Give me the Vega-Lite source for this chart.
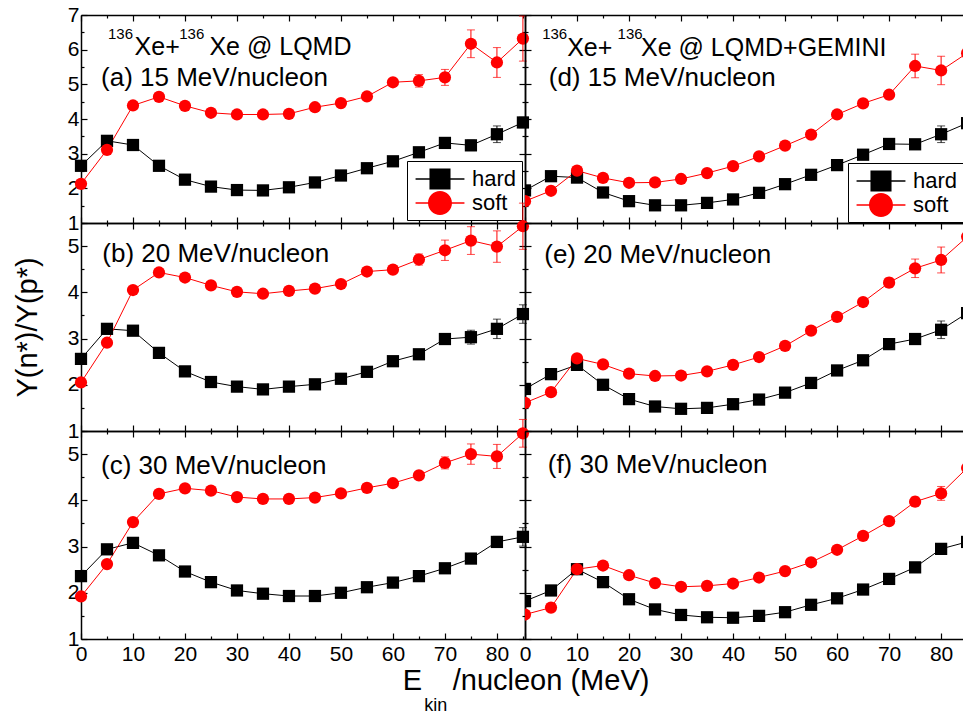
{
"$schema": "https://vega.github.io/schema/vega-lite/v6.json",
"padding": {"left": 13, "top": 4, "right": 0, "bottom": 0},
"config": {
 "view": {"stroke": null},
 "font": "Liberation Sans",
 "axis": {"domainColor": "#000", "domainWidth": 1.5, "tickColor": "#000", "tickWidth": 1.2, "grid": false, "labelFont": "Liberation Sans", "labelFontSize": 21, "labelColor": "#000", "labelOverlap": false, "labelFlush": false, "labelBound": false, "labelPadding": 8, "titleFont": "Liberation Sans", "titleFontSize": 29, "titleFontWeight": "normal", "titleColor": "#000"}
},
"datasets": {
 "pts": [
{"p":"a","m":"hard","E":0,"Y":2.65,"e":0},{"p":"a","m":"hard","E":5,"Y":3.37,"e":0},{"p":"a","m":"hard","E":10,"Y":3.25,"e":0},{"p":"a","m":"hard","E":15,"Y":2.65,"e":0},{"p":"a","m":"hard","E":20,"Y":2.25,"e":0},{"p":"a","m":"hard","E":25,"Y":2.05,"e":0},{"p":"a","m":"hard","E":30,"Y":1.95,"e":0},{"p":"a","m":"hard","E":35,"Y":1.94,"e":0},{"p":"a","m":"hard","E":40,"Y":2.03,"e":0},{"p":"a","m":"hard","E":45,"Y":2.17,"e":0},{"p":"a","m":"hard","E":50,"Y":2.37,"e":0},{"p":"a","m":"hard","E":55,"Y":2.58,"e":0},{"p":"a","m":"hard","E":60,"Y":2.78,"e":0},{"p":"a","m":"hard","E":65,"Y":3.04,"e":0},{"p":"a","m":"hard","E":70,"Y":3.31,"e":0.06},{"p":"a","m":"hard","E":75,"Y":3.24,"e":0.15},{"p":"a","m":"hard","E":80,"Y":3.56,"e":0.24},{"p":"a","m":"hard","E":85,"Y":3.9,"e":0.15},
{"p":"a","m":"soft","E":0,"Y":2.13,"e":0},{"p":"a","m":"soft","E":5,"Y":3.11,"e":0},{"p":"a","m":"soft","E":10,"Y":4.39,"e":0},{"p":"a","m":"soft","E":15,"Y":4.64,"e":0},{"p":"a","m":"soft","E":20,"Y":4.38,"e":0},{"p":"a","m":"soft","E":25,"Y":4.18,"e":0},{"p":"a","m":"soft","E":30,"Y":4.13,"e":0},{"p":"a","m":"soft","E":35,"Y":4.13,"e":0},{"p":"a","m":"soft","E":40,"Y":4.15,"e":0},{"p":"a","m":"soft","E":45,"Y":4.34,"e":0},{"p":"a","m":"soft","E":50,"Y":4.46,"e":0},{"p":"a","m":"soft","E":55,"Y":4.65,"e":0},{"p":"a","m":"soft","E":60,"Y":5.06,"e":0.06},{"p":"a","m":"soft","E":65,"Y":5.1,"e":0.18},{"p":"a","m":"soft","E":70,"Y":5.2,"e":0.23},{"p":"a","m":"soft","E":75,"Y":6.17,"e":0.4},{"p":"a","m":"soft","E":80,"Y":5.63,"e":0.43},{"p":"a","m":"soft","E":85,"Y":6.32,"e":0.65},
{"p":"b","m":"hard","E":0,"Y":2.56,"e":0},{"p":"b","m":"hard","E":5,"Y":3.21,"e":0},{"p":"b","m":"hard","E":10,"Y":3.17,"e":0},{"p":"b","m":"hard","E":15,"Y":2.69,"e":0},{"p":"b","m":"hard","E":20,"Y":2.29,"e":0},{"p":"b","m":"hard","E":25,"Y":2.06,"e":0},{"p":"b","m":"hard","E":30,"Y":1.96,"e":0},{"p":"b","m":"hard","E":35,"Y":1.9,"e":0},{"p":"b","m":"hard","E":40,"Y":1.96,"e":0},{"p":"b","m":"hard","E":45,"Y":2.01,"e":0},{"p":"b","m":"hard","E":50,"Y":2.13,"e":0},{"p":"b","m":"hard","E":55,"Y":2.28,"e":0},{"p":"b","m":"hard","E":60,"Y":2.51,"e":0},{"p":"b","m":"hard","E":65,"Y":2.66,"e":0},{"p":"b","m":"hard","E":70,"Y":2.99,"e":0.06},{"p":"b","m":"hard","E":75,"Y":3.03,"e":0.15},{"p":"b","m":"hard","E":80,"Y":3.21,"e":0.21},{"p":"b","m":"hard","E":85,"Y":3.53,"e":0.2},
{"p":"b","m":"soft","E":0,"Y":2.05,"e":0},{"p":"b","m":"soft","E":5,"Y":2.91,"e":0},{"p":"b","m":"soft","E":10,"Y":4.05,"e":0},{"p":"b","m":"soft","E":15,"Y":4.43,"e":0},{"p":"b","m":"soft","E":20,"Y":4.32,"e":0},{"p":"b","m":"soft","E":25,"Y":4.15,"e":0},{"p":"b","m":"soft","E":30,"Y":4.01,"e":0},{"p":"b","m":"soft","E":35,"Y":3.97,"e":0},{"p":"b","m":"soft","E":40,"Y":4.03,"e":0},{"p":"b","m":"soft","E":45,"Y":4.08,"e":0},{"p":"b","m":"soft","E":50,"Y":4.18,"e":0},{"p":"b","m":"soft","E":55,"Y":4.45,"e":0},{"p":"b","m":"soft","E":60,"Y":4.49,"e":0},{"p":"b","m":"soft","E":65,"Y":4.71,"e":0.12},{"p":"b","m":"soft","E":70,"Y":4.91,"e":0.22},{"p":"b","m":"soft","E":75,"Y":5.12,"e":0.3},{"p":"b","m":"soft","E":80,"Y":4.99,"e":0.34},{"p":"b","m":"soft","E":85,"Y":5.43,"e":0.5},
{"p":"c","m":"hard","E":0,"Y":2.36,"e":0},{"p":"c","m":"hard","E":5,"Y":2.94,"e":0},{"p":"c","m":"hard","E":10,"Y":3.08,"e":0},{"p":"c","m":"hard","E":15,"Y":2.81,"e":0},{"p":"c","m":"hard","E":20,"Y":2.46,"e":0},{"p":"c","m":"hard","E":25,"Y":2.23,"e":0},{"p":"c","m":"hard","E":30,"Y":2.05,"e":0},{"p":"c","m":"hard","E":35,"Y":1.98,"e":0},{"p":"c","m":"hard","E":40,"Y":1.93,"e":0},{"p":"c","m":"hard","E":45,"Y":1.93,"e":0},{"p":"c","m":"hard","E":50,"Y":2.0,"e":0},{"p":"c","m":"hard","E":55,"Y":2.12,"e":0},{"p":"c","m":"hard","E":60,"Y":2.22,"e":0},{"p":"c","m":"hard","E":65,"Y":2.36,"e":0},{"p":"c","m":"hard","E":70,"Y":2.53,"e":0},{"p":"c","m":"hard","E":75,"Y":2.74,"e":0},{"p":"c","m":"hard","E":80,"Y":3.1,"e":0.12},{"p":"c","m":"hard","E":85,"Y":3.21,"e":0.2},
{"p":"c","m":"soft","E":0,"Y":1.92,"e":0},{"p":"c","m":"soft","E":5,"Y":2.62,"e":0},{"p":"c","m":"soft","E":10,"Y":3.53,"e":0},{"p":"c","m":"soft","E":15,"Y":4.14,"e":0},{"p":"c","m":"soft","E":20,"Y":4.26,"e":0},{"p":"c","m":"soft","E":25,"Y":4.21,"e":0},{"p":"c","m":"soft","E":30,"Y":4.07,"e":0},{"p":"c","m":"soft","E":35,"Y":4.03,"e":0},{"p":"c","m":"soft","E":40,"Y":4.03,"e":0},{"p":"c","m":"soft","E":45,"Y":4.06,"e":0},{"p":"c","m":"soft","E":50,"Y":4.15,"e":0},{"p":"c","m":"soft","E":55,"Y":4.27,"e":0},{"p":"c","m":"soft","E":60,"Y":4.37,"e":0},{"p":"c","m":"soft","E":65,"Y":4.54,"e":0.08},{"p":"c","m":"soft","E":70,"Y":4.81,"e":0.13},{"p":"c","m":"soft","E":75,"Y":5.0,"e":0.22},{"p":"c","m":"soft","E":80,"Y":4.95,"e":0.26},{"p":"c","m":"soft","E":85,"Y":5.45,"e":0.3},
{"p":"d","m":"hard","E":0,"Y":1.94,"e":0},{"p":"d","m":"hard","E":5,"Y":2.35,"e":0},{"p":"d","m":"hard","E":10,"Y":2.31,"e":0},{"p":"d","m":"hard","E":15,"Y":1.88,"e":0},{"p":"d","m":"hard","E":20,"Y":1.63,"e":0},{"p":"d","m":"hard","E":25,"Y":1.51,"e":0},{"p":"d","m":"hard","E":30,"Y":1.51,"e":0},{"p":"d","m":"hard","E":35,"Y":1.58,"e":0},{"p":"d","m":"hard","E":40,"Y":1.68,"e":0},{"p":"d","m":"hard","E":45,"Y":1.87,"e":0},{"p":"d","m":"hard","E":50,"Y":2.12,"e":0},{"p":"d","m":"hard","E":55,"Y":2.39,"e":0},{"p":"d","m":"hard","E":60,"Y":2.67,"e":0},{"p":"d","m":"hard","E":65,"Y":2.97,"e":0},{"p":"d","m":"hard","E":70,"Y":3.28,"e":0},{"p":"d","m":"hard","E":75,"Y":3.27,"e":0.08},{"p":"d","m":"hard","E":80,"Y":3.56,"e":0.24},{"p":"d","m":"hard","E":85,"Y":3.88,"e":0},
{"p":"d","m":"soft","E":0,"Y":1.63,"e":0},{"p":"d","m":"soft","E":5,"Y":1.93,"e":0},{"p":"d","m":"soft","E":10,"Y":2.51,"e":0},{"p":"d","m":"soft","E":15,"Y":2.3,"e":0},{"p":"d","m":"soft","E":20,"Y":2.16,"e":0},{"p":"d","m":"soft","E":25,"Y":2.17,"e":0},{"p":"d","m":"soft","E":30,"Y":2.27,"e":0},{"p":"d","m":"soft","E":35,"Y":2.44,"e":0},{"p":"d","m":"soft","E":40,"Y":2.64,"e":0},{"p":"d","m":"soft","E":45,"Y":2.92,"e":0},{"p":"d","m":"soft","E":50,"Y":3.23,"e":0},{"p":"d","m":"soft","E":55,"Y":3.55,"e":0},{"p":"d","m":"soft","E":60,"Y":4.13,"e":0},{"p":"d","m":"soft","E":65,"Y":4.45,"e":0},{"p":"d","m":"soft","E":70,"Y":4.7,"e":0.12},{"p":"d","m":"soft","E":75,"Y":5.53,"e":0.34},{"p":"d","m":"soft","E":80,"Y":5.4,"e":0.41},{"p":"d","m":"soft","E":85,"Y":5.9,"e":0},
{"p":"e","m":"hard","E":0,"Y":1.91,"e":0},{"p":"e","m":"hard","E":5,"Y":2.23,"e":0},{"p":"e","m":"hard","E":10,"Y":2.43,"e":0},{"p":"e","m":"hard","E":15,"Y":2.0,"e":0},{"p":"e","m":"hard","E":20,"Y":1.69,"e":0},{"p":"e","m":"hard","E":25,"Y":1.53,"e":0},{"p":"e","m":"hard","E":30,"Y":1.48,"e":0},{"p":"e","m":"hard","E":35,"Y":1.5,"e":0},{"p":"e","m":"hard","E":40,"Y":1.58,"e":0},{"p":"e","m":"hard","E":45,"Y":1.68,"e":0},{"p":"e","m":"hard","E":50,"Y":1.83,"e":0},{"p":"e","m":"hard","E":55,"Y":2.04,"e":0},{"p":"e","m":"hard","E":60,"Y":2.31,"e":0},{"p":"e","m":"hard","E":65,"Y":2.53,"e":0},{"p":"e","m":"hard","E":70,"Y":2.88,"e":0},{"p":"e","m":"hard","E":75,"Y":2.99,"e":0.1},{"p":"e","m":"hard","E":80,"Y":3.19,"e":0.19},{"p":"e","m":"hard","E":85,"Y":3.55,"e":0},
{"p":"e","m":"soft","E":0,"Y":1.61,"e":0},{"p":"e","m":"soft","E":5,"Y":1.84,"e":0},{"p":"e","m":"soft","E":10,"Y":2.57,"e":0},{"p":"e","m":"soft","E":15,"Y":2.44,"e":0},{"p":"e","m":"soft","E":20,"Y":2.24,"e":0},{"p":"e","m":"soft","E":25,"Y":2.19,"e":0},{"p":"e","m":"soft","E":30,"Y":2.2,"e":0},{"p":"e","m":"soft","E":35,"Y":2.29,"e":0},{"p":"e","m":"soft","E":40,"Y":2.43,"e":0},{"p":"e","m":"soft","E":45,"Y":2.6,"e":0},{"p":"e","m":"soft","E":50,"Y":2.84,"e":0},{"p":"e","m":"soft","E":55,"Y":3.17,"e":0},{"p":"e","m":"soft","E":60,"Y":3.47,"e":0},{"p":"e","m":"soft","E":65,"Y":3.79,"e":0},{"p":"e","m":"soft","E":70,"Y":4.21,"e":0.1},{"p":"e","m":"soft","E":75,"Y":4.52,"e":0.2},{"p":"e","m":"soft","E":80,"Y":4.7,"e":0.28},{"p":"e","m":"soft","E":85,"Y":5.2,"e":0},
{"p":"f","m":"hard","E":0,"Y":1.82,"e":0},{"p":"f","m":"hard","E":5,"Y":2.05,"e":0},{"p":"f","m":"hard","E":10,"Y":2.51,"e":0},{"p":"f","m":"hard","E":15,"Y":2.23,"e":0},{"p":"f","m":"hard","E":20,"Y":1.86,"e":0},{"p":"f","m":"hard","E":25,"Y":1.64,"e":0},{"p":"f","m":"hard","E":30,"Y":1.52,"e":0},{"p":"f","m":"hard","E":35,"Y":1.47,"e":0},{"p":"f","m":"hard","E":40,"Y":1.46,"e":0},{"p":"f","m":"hard","E":45,"Y":1.5,"e":0},{"p":"f","m":"hard","E":50,"Y":1.58,"e":0},{"p":"f","m":"hard","E":55,"Y":1.74,"e":0},{"p":"f","m":"hard","E":60,"Y":1.88,"e":0},{"p":"f","m":"hard","E":65,"Y":2.07,"e":0},{"p":"f","m":"hard","E":70,"Y":2.3,"e":0},{"p":"f","m":"hard","E":75,"Y":2.55,"e":0},{"p":"f","m":"hard","E":80,"Y":2.95,"e":0.1},{"p":"f","m":"hard","E":85,"Y":3.1,"e":0},
{"p":"f","m":"soft","E":0,"Y":1.53,"e":0},{"p":"f","m":"soft","E":5,"Y":1.68,"e":0},{"p":"f","m":"soft","E":10,"Y":2.51,"e":0},{"p":"f","m":"soft","E":15,"Y":2.59,"e":0},{"p":"f","m":"soft","E":20,"Y":2.38,"e":0},{"p":"f","m":"soft","E":25,"Y":2.21,"e":0},{"p":"f","m":"soft","E":30,"Y":2.13,"e":0},{"p":"f","m":"soft","E":35,"Y":2.15,"e":0},{"p":"f","m":"soft","E":40,"Y":2.2,"e":0},{"p":"f","m":"soft","E":45,"Y":2.33,"e":0},{"p":"f","m":"soft","E":50,"Y":2.47,"e":0},{"p":"f","m":"soft","E":55,"Y":2.66,"e":0},{"p":"f","m":"soft","E":60,"Y":2.93,"e":0},{"p":"f","m":"soft","E":65,"Y":3.23,"e":0},{"p":"f","m":"soft","E":70,"Y":3.55,"e":0},{"p":"f","m":"soft","E":75,"Y":3.97,"e":0.1},{"p":"f","m":"soft","E":80,"Y":4.15,"e":0.15},{"p":"f","m":"soft","E":85,"Y":4.7,"e":0}
 ],
 "ann": [
{"p":"a","k":"big","t":"Xe+","x":10.3,"y":5.86},
{"p":"a","k":"big","t":"Xe @ LQMD","x":24.7,"y":5.86},
{"p":"a","k":"sup","t":"136","x":5.19,"y":6.32},
{"p":"a","k":"sup","t":"136","x":18.9,"y":6.32},
{"p":"a","k":"lab","t":"(a) 15 MeV/nucleon","x":3.85,"y":4.94},
{"p":"d","k":"big","t":"Xe+","x":8.1,"y":5.83},
{"p":"d","k":"big","t":"Xe @ LQMD+GEMINI","x":22.3,"y":5.83},
{"p":"d","k":"sup","t":"136","x":3.3,"y":6.31},
{"p":"d","k":"sup","t":"136","x":17.8,"y":6.31},
{"p":"d","k":"lab","t":"(d) 15 MeV/nucleon","x":4.56,"y":4.94},
{"p":"b","k":"lab","t":"(b) 20 MeV/nucleon","x":4.1,"y":4.65},
{"p":"e","k":"lab","t":"(e) 20 MeV/nucleon","x":3.7,"y":4.63},
{"p":"c","k":"lab","t":"(c) 30 MeV/nucleon","x":3.85,"y":4.58},
{"p":"f","k":"lab","t":"(f) 30 MeV/nucleon","x":4.37,"y":4.6},
{"p":"c","k":"xt","t":"E","x":61.9,"y":-0.11},
{"p":"c","k":"xt","t":"/nucleon (MeV)","x":71.5,"y":-0.11},
{"p":"c","k":"xs","t":"kin","x":66.0,"y":-0.56}
 ]
},
"columns": 2,
"spacing": 0,
"bounds": "flush",
"resolve": {"scale": {"color": "independent", "shape": "independent"}, "legend": {"color": "independent", "shape": "independent"}},
"concat": [
{
 "width": 444, "height": 208,
 "resolve": {"scale": {"shape": "independent", "color": "independent"}, "axis": {"x": "independent", "y": "independent"}},
 "layer": [
  {"data": {"name": "pts"}, "transform": [{"filter": "datum.p === 'a'"}],
   "mark": {"type": "line", "strokeWidth": 1},
   "encoding": {
    "x": {"field": "E", "type": "quantitative", "scale": {"domain": [0, 85.4], "nice": false, "zero": false}, "axis": {"orient": "bottom", "values": [0,5,10,15,20,25,30,35,40,45,50,55,60,65,70,75,80,85], "tickSize": {"condition": {"test": "datum.value % 10 === 0", "value": -6}, "value": -3}, "labels": false, "title": null}},
    "y": {"field": "Y", "type": "quantitative", "scale": {"domain": [1, 7], "nice": false, "zero": false}, "axis": {"orient": "left", "values": [1,1.5,2,2.5,3,3.5,4,4.5,5,5.5,6,6.5,7], "tickSize": {"condition": {"test": "datum.value % 1 === 0", "value": -6}, "value": -3}, "labelExpr": "datum.value % 1 === 0 ? format(datum.value, 'd') : ''", "title": null}},
    "color": {"field": "m", "type": "nominal", "scale": {"domain": ["hard", "soft"], "range": ["#000000", "#ff0000"]}, "legend": null}}},
  {"data": {"name": "pts"}, "transform": [{"filter": "datum.p === 'a' && datum.e > 0"}],
   "mark": {"type": "errorbar", "ticks": {"size": 8}, "thickness": 1},
   "encoding": {
    "x": {"field": "E", "type": "quantitative", "scale": {"domain": [0, 85.4], "nice": false, "zero": false}, "axis": null},
    "y": {"field": "Y", "type": "quantitative", "scale": {"domain": [1, 7], "nice": false, "zero": false}, "axis": null},
    "yError": {"field": "e"},
    "color": {"field": "m", "type": "nominal", "scale": {"domain": ["hard", "soft"], "range": ["#000000", "#ff0000"]}, "legend": null}}},
  {"data": {"name": "pts"}, "transform": [{"filter": "datum.p === 'a'"}],
   "mark": {"type": "point", "filled": true, "size": 150, "opacity": 1},
   "encoding": {
    "x": {"field": "E", "type": "quantitative", "scale": {"domain": [0, 85.4], "nice": false, "zero": false}, "axis": {"orient": "top", "values": [0,5,10,15,20,25,30,35,40,45,50,55,60,65,70,75,80,85], "tickSize": {"condition": {"test": "datum.value % 10 === 0", "value": -6}, "value": -3}, "labels": false, "title": null}},
    "y": {"field": "Y", "type": "quantitative", "scale": {"domain": [1, 7], "nice": false, "zero": false}, "axis": {"orient": "right", "values": [1,1.5,2,2.5,3,3.5,4,4.5,5,5.5,6,6.5,7], "tickSize": {"condition": {"test": "datum.value % 1 === 0", "value": -6}, "value": -3}, "labels": false, "title": null}},
    "color": {"field": "m", "type": "nominal", "scale": {"domain": ["hard", "soft"], "range": ["#000000", "#ff0000"]}, "legend": null},
    "shape": {"field": "m", "type": "nominal", "scale": {"domain": ["hard", "soft"], "range": ["square", "circle"]}, "legend": null}}},
  {"data": {"name": "ann"}, "transform": [{"filter": "datum.p === 'a' && datum.k === 'big'"}],
   "mark": {"type": "text", "align": "left", "baseline": "alphabetic", "fontSize": 25, "font": "Liberation Sans", "color": "#000"},
   "encoding": {"x": {"field": "x", "type": "quantitative", "axis": null}, "y": {"field": "y", "type": "quantitative", "axis": null}, "text": {"field": "t"}}},
  {"data": {"name": "ann"}, "transform": [{"filter": "datum.p === 'a' && datum.k === 'sup'"}],
   "mark": {"type": "text", "align": "left", "baseline": "alphabetic", "fontSize": 15, "font": "Liberation Sans", "color": "#000"},
   "encoding": {"x": {"field": "x", "type": "quantitative", "axis": null}, "y": {"field": "y", "type": "quantitative", "axis": null}, "text": {"field": "t"}}},
  {"data": {"name": "ann"}, "transform": [{"filter": "datum.p === 'a' && datum.k === 'lab'"}],
   "mark": {"type": "text", "align": "left", "baseline": "alphabetic", "fontSize": 26, "font": "Liberation Sans", "color": "#000"},
   "encoding": {"x": {"field": "x", "type": "quantitative", "axis": null}, "y": {"field": "y", "type": "quantitative", "axis": null}, "text": {"field": "t"}}},
  {"data": {"name": "pts"}, "transform": [{"filter": "false"}],
   "mark": {"type": "point", "filled": true, "opacity": 1},
   "encoding": {
    "x": {"field": "E", "type": "quantitative", "axis": null},
    "y": {"field": "Y", "type": "quantitative", "axis": null},
    "color": {"field": "m", "type": "nominal", "scale": {"domain": ["hard", "soft"], "range": ["#000000", "#ff0000"]}, "legend": {"title": null, "orient": "bottom-right", "offset": 3, "symbolSize": 676, "symbolStrokeWidth": 0, "symbolStrokeColor": "transparent", "symbolOpacity": 1, "symbolOffset": 15, "labelOffset": 19, "labelFontSize": 22, "labelFont": "Liberation Sans", "labelColor": "#000", "strokeColor": "#000", "fillColor": "#fff", "padding": 5, "rowPadding": 0}},
    "shape": {"field": "m", "type": "nominal", "scale": {"domain": ["hard", "soft"], "range": ["M-1.88,-0.05H1.88V0.05H-1.88ZM-0.81,-0.81H0.81V0.81H-0.81Z", "M-1.88,-0.05H1.88V0.05H-1.88ZM0.92,0A0.92,0.92,0,1,1,-0.92,0A0.92,0.92,0,1,1,0.92,0Z"]}, "legend": {"title": null, "orient": "bottom-right", "offset": 3, "symbolSize": 676, "symbolStrokeWidth": 0, "symbolStrokeColor": "transparent", "symbolOpacity": 1, "symbolOffset": 15, "labelOffset": 19, "labelFontSize": 22, "labelFont": "Liberation Sans", "labelColor": "#000", "strokeColor": "#000", "fillColor": "#fff", "padding": 5, "rowPadding": 0}}}}
 ]
},
{
 "width": 439, "height": 208,
 "resolve": {"scale": {"shape": "independent", "color": "independent"}, "axis": {"x": "independent", "y": "independent"}},
 "layer": [
  {"data": {"name": "pts"}, "transform": [{"filter": "datum.p === 'd'"}],
   "mark": {"type": "line", "strokeWidth": 1, "clip": true},
   "encoding": {
    "x": {"field": "E", "type": "quantitative", "scale": {"domain": [0, 84.4], "nice": false, "zero": false}, "axis": {"orient": "bottom", "values": [0,5,10,15,20,25,30,35,40,45,50,55,60,65,70,75,80], "tickSize": {"condition": {"test": "datum.value % 10 === 0", "value": -6}, "value": -3}, "labels": false, "title": null}},
    "y": {"field": "Y", "type": "quantitative", "scale": {"domain": [1, 7], "nice": false, "zero": false}, "axis": {"orient": "left", "values": [1,1.5,2,2.5,3,3.5,4,4.5,5,5.5,6,6.5,7], "tickSize": {"condition": {"test": "datum.value % 1 === 0", "value": -6}, "value": -3}, "labels": false, "title": null}},
    "color": {"field": "m", "type": "nominal", "scale": {"domain": ["hard", "soft"], "range": ["#000000", "#ff0000"]}, "legend": null}}},
  {"data": {"name": "pts"}, "transform": [{"filter": "datum.p === 'd' && datum.e > 0"}],
   "mark": {"type": "errorbar", "ticks": {"size": 8}, "thickness": 1},
   "encoding": {
    "x": {"field": "E", "type": "quantitative", "scale": {"domain": [0, 84.4], "nice": false, "zero": false}, "axis": null},
    "y": {"field": "Y", "type": "quantitative", "scale": {"domain": [1, 7], "nice": false, "zero": false}, "axis": null},
    "yError": {"field": "e"},
    "color": {"field": "m", "type": "nominal", "scale": {"domain": ["hard", "soft"], "range": ["#000000", "#ff0000"]}, "legend": null}}},
  {"data": {"name": "pts"}, "transform": [{"filter": "datum.p === 'd'"}],
   "mark": {"type": "point", "filled": true, "size": 150, "opacity": 1, "clip": true},
   "encoding": {
    "x": {"field": "E", "type": "quantitative", "scale": {"domain": [0, 84.4], "nice": false, "zero": false}, "axis": {"orient": "top", "values": [0,5,10,15,20,25,30,35,40,45,50,55,60,65,70,75,80], "tickSize": {"condition": {"test": "datum.value % 10 === 0", "value": -6}, "value": -3}, "labels": false, "title": null}},
    "y": {"field": "Y", "type": "quantitative", "scale": {"domain": [1, 7], "nice": false, "zero": false}, "axis": null},
    "color": {"field": "m", "type": "nominal", "scale": {"domain": ["hard", "soft"], "range": ["#000000", "#ff0000"]}, "legend": null},
    "shape": {"field": "m", "type": "nominal", "scale": {"domain": ["hard", "soft"], "range": ["square", "circle"]}, "legend": null}}},
  {"data": {"name": "ann"}, "transform": [{"filter": "datum.p === 'd' && datum.k === 'big'"}],
   "mark": {"type": "text", "align": "left", "baseline": "alphabetic", "fontSize": 25, "font": "Liberation Sans", "color": "#000"},
   "encoding": {"x": {"field": "x", "type": "quantitative", "axis": null}, "y": {"field": "y", "type": "quantitative", "axis": null}, "text": {"field": "t"}}},
  {"data": {"name": "ann"}, "transform": [{"filter": "datum.p === 'd' && datum.k === 'sup'"}],
   "mark": {"type": "text", "align": "left", "baseline": "alphabetic", "fontSize": 15, "font": "Liberation Sans", "color": "#000"},
   "encoding": {"x": {"field": "x", "type": "quantitative", "axis": null}, "y": {"field": "y", "type": "quantitative", "axis": null}, "text": {"field": "t"}}},
  {"data": {"name": "ann"}, "transform": [{"filter": "datum.p === 'd' && datum.k === 'lab'"}],
   "mark": {"type": "text", "align": "left", "baseline": "alphabetic", "fontSize": 26, "font": "Liberation Sans", "color": "#000"},
   "encoding": {"x": {"field": "x", "type": "quantitative", "axis": null}, "y": {"field": "y", "type": "quantitative", "axis": null}, "text": {"field": "t"}}},
  {"data": {"name": "pts"}, "transform": [{"filter": "false"}],
   "mark": {"type": "point", "filled": true, "opacity": 1},
   "encoding": {
    "x": {"field": "E", "type": "quantitative", "axis": null},
    "y": {"field": "Y", "type": "quantitative", "axis": null},
    "color": {"field": "m", "type": "nominal", "scale": {"domain": ["hard", "soft"], "range": ["#000000", "#ff0000"]}, "legend": {"title": null, "orient": "bottom-right", "offset": 1, "symbolSize": 676, "symbolStrokeWidth": 0, "symbolStrokeColor": "transparent", "symbolOpacity": 1, "symbolOffset": 15, "labelOffset": 19, "labelFontSize": 22, "labelFont": "Liberation Sans", "labelColor": "#000", "strokeColor": "#000", "fillColor": "#fff", "padding": 5, "rowPadding": 0}},
    "shape": {"field": "m", "type": "nominal", "scale": {"domain": ["hard", "soft"], "range": ["M-1.88,-0.05H1.88V0.05H-1.88ZM-0.81,-0.81H0.81V0.81H-0.81Z", "M-1.88,-0.05H1.88V0.05H-1.88ZM0.92,0A0.92,0.92,0,1,1,-0.92,0A0.92,0.92,0,1,1,0.92,0Z"]}, "legend": {"title": null, "orient": "bottom-right", "offset": 1, "symbolSize": 676, "symbolStrokeWidth": 0, "symbolStrokeColor": "transparent", "symbolOpacity": 1, "symbolOffset": 15, "labelOffset": 19, "labelFontSize": 22, "labelFont": "Liberation Sans", "labelColor": "#000", "strokeColor": "#000", "fillColor": "#fff", "padding": 5, "rowPadding": 0}}}}
 ]
},
{
 "width": 444, "height": 208,
 "resolve": {"scale": {"shape": "independent"}, "axis": {"x": "independent", "y": "independent"}},
 "layer": [
  {"data": {"name": "pts"}, "transform": [{"filter": "datum.p === 'b'"}],
   "mark": {"type": "line", "strokeWidth": 1},
   "encoding": {
    "x": {"field": "E", "type": "quantitative", "scale": {"domain": [0, 85.4], "nice": false, "zero": false}, "axis": {"orient": "bottom", "values": [0,5,10,15,20,25,30,35,40,45,50,55,60,65,70,75,80,85], "tickSize": {"condition": {"test": "datum.value % 10 === 0", "value": -6}, "value": -3}, "labels": false, "title": null}},
    "y": {"field": "Y", "type": "quantitative", "scale": {"domain": [1, 5.5], "nice": false, "zero": false}, "axis": {"orient": "left", "values": [1,1.5,2,2.5,3,3.5,4,4.5,5,5.5], "tickSize": {"condition": {"test": "datum.value % 1 === 0", "value": -6}, "value": -3}, "labelExpr": "datum.value % 1 === 0 ? format(datum.value, 'd') : ''", "title": "Y(n*)/Y(p*)", "titlePadding": 25}},
    "color": {"field": "m", "type": "nominal", "scale": {"domain": ["hard", "soft"], "range": ["#000000", "#ff0000"]}, "legend": null}}},
  {"data": {"name": "pts"}, "transform": [{"filter": "datum.p === 'b' && datum.e > 0"}],
   "mark": {"type": "errorbar", "ticks": {"size": 8}, "thickness": 1},
   "encoding": {
    "x": {"field": "E", "type": "quantitative", "scale": {"domain": [0, 85.4], "nice": false, "zero": false}, "axis": null},
    "y": {"field": "Y", "type": "quantitative", "scale": {"domain": [1, 5.5], "nice": false, "zero": false}, "axis": null},
    "yError": {"field": "e"},
    "color": {"field": "m", "type": "nominal", "scale": {"domain": ["hard", "soft"], "range": ["#000000", "#ff0000"]}, "legend": null}}},
  {"data": {"name": "pts"}, "transform": [{"filter": "datum.p === 'b'"}],
   "mark": {"type": "point", "filled": true, "size": 150, "opacity": 1},
   "encoding": {
    "x": {"field": "E", "type": "quantitative", "scale": {"domain": [0, 85.4], "nice": false, "zero": false}, "axis": {"orient": "top", "values": [0,5,10,15,20,25,30,35,40,45,50,55,60,65,70,75,80,85], "tickSize": {"condition": {"test": "datum.value % 10 === 0", "value": -6}, "value": -3}, "labels": false, "title": null}},
    "y": {"field": "Y", "type": "quantitative", "scale": {"domain": [1, 5.5], "nice": false, "zero": false}, "axis": {"orient": "right", "values": [1,1.5,2,2.5,3,3.5,4,4.5,5,5.5], "tickSize": {"condition": {"test": "datum.value % 1 === 0", "value": -6}, "value": -3}, "labels": false, "title": null}},
    "color": {"field": "m", "type": "nominal", "scale": {"domain": ["hard", "soft"], "range": ["#000000", "#ff0000"]}, "legend": null},
    "shape": {"field": "m", "type": "nominal", "scale": {"domain": ["hard", "soft"], "range": ["square", "circle"]}, "legend": null}}},
  {"data": {"name": "ann"}, "transform": [{"filter": "datum.p === 'b' && datum.k === 'lab'"}],
   "mark": {"type": "text", "align": "left", "baseline": "alphabetic", "fontSize": 26, "font": "Liberation Sans", "color": "#000"},
   "encoding": {"x": {"field": "x", "type": "quantitative", "axis": null}, "y": {"field": "y", "type": "quantitative", "axis": null}, "text": {"field": "t"}}}
 ]
},
{
 "width": 439, "height": 208,
 "resolve": {"scale": {"shape": "independent"}, "axis": {"x": "independent", "y": "independent"}},
 "layer": [
  {"data": {"name": "pts"}, "transform": [{"filter": "datum.p === 'e'"}],
   "mark": {"type": "line", "strokeWidth": 1, "clip": true},
   "encoding": {
    "x": {"field": "E", "type": "quantitative", "scale": {"domain": [0, 84.4], "nice": false, "zero": false}, "axis": {"orient": "bottom", "values": [0,5,10,15,20,25,30,35,40,45,50,55,60,65,70,75,80], "tickSize": {"condition": {"test": "datum.value % 10 === 0", "value": -6}, "value": -3}, "labels": false, "title": null}},
    "y": {"field": "Y", "type": "quantitative", "scale": {"domain": [1, 5.5], "nice": false, "zero": false}, "axis": {"orient": "left", "values": [1,1.5,2,2.5,3,3.5,4,4.5,5,5.5], "tickSize": {"condition": {"test": "datum.value % 1 === 0", "value": -6}, "value": -3}, "labels": false, "title": null}},
    "color": {"field": "m", "type": "nominal", "scale": {"domain": ["hard", "soft"], "range": ["#000000", "#ff0000"]}, "legend": null}}},
  {"data": {"name": "pts"}, "transform": [{"filter": "datum.p === 'e' && datum.e > 0"}],
   "mark": {"type": "errorbar", "ticks": {"size": 8}, "thickness": 1},
   "encoding": {
    "x": {"field": "E", "type": "quantitative", "scale": {"domain": [0, 84.4], "nice": false, "zero": false}, "axis": null},
    "y": {"field": "Y", "type": "quantitative", "scale": {"domain": [1, 5.5], "nice": false, "zero": false}, "axis": null},
    "yError": {"field": "e"},
    "color": {"field": "m", "type": "nominal", "scale": {"domain": ["hard", "soft"], "range": ["#000000", "#ff0000"]}, "legend": null}}},
  {"data": {"name": "pts"}, "transform": [{"filter": "datum.p === 'e'"}],
   "mark": {"type": "point", "filled": true, "size": 150, "opacity": 1, "clip": true},
   "encoding": {
    "x": {"field": "E", "type": "quantitative", "scale": {"domain": [0, 84.4], "nice": false, "zero": false}, "axis": {"orient": "top", "values": [0,5,10,15,20,25,30,35,40,45,50,55,60,65,70,75,80], "tickSize": {"condition": {"test": "datum.value % 10 === 0", "value": -6}, "value": -3}, "labels": false, "title": null}},
    "y": {"field": "Y", "type": "quantitative", "scale": {"domain": [1, 5.5], "nice": false, "zero": false}, "axis": null},
    "color": {"field": "m", "type": "nominal", "scale": {"domain": ["hard", "soft"], "range": ["#000000", "#ff0000"]}, "legend": null},
    "shape": {"field": "m", "type": "nominal", "scale": {"domain": ["hard", "soft"], "range": ["square", "circle"]}, "legend": null}}},
  {"data": {"name": "ann"}, "transform": [{"filter": "datum.p === 'e' && datum.k === 'lab'"}],
   "mark": {"type": "text", "align": "left", "baseline": "alphabetic", "fontSize": 26, "font": "Liberation Sans", "color": "#000"},
   "encoding": {"x": {"field": "x", "type": "quantitative", "axis": null}, "y": {"field": "y", "type": "quantitative", "axis": null}, "text": {"field": "t"}}}
 ]
},
{
 "width": 444, "height": 208,
 "resolve": {"scale": {"shape": "independent"}, "axis": {"x": "independent", "y": "independent"}},
 "layer": [
  {"data": {"name": "pts"}, "transform": [{"filter": "datum.p === 'c'"}],
   "mark": {"type": "line", "strokeWidth": 1},
   "encoding": {
    "x": {"field": "E", "type": "quantitative", "scale": {"domain": [0, 85.4], "nice": false, "zero": false}, "axis": {"orient": "bottom", "values": [0,5,10,15,20,25,30,35,40,45,50,55,60,65,70,75,80,85], "tickSize": {"condition": {"test": "datum.value % 10 === 0", "value": -6}, "value": -3}, "labelExpr": "datum.value % 10 === 0 && datum.value <= 80 ? datum.label : ''", "labelPadding": 10, "title": null}},
    "y": {"field": "Y", "type": "quantitative", "scale": {"domain": [1, 5.5], "nice": false, "zero": false}, "axis": {"orient": "left", "values": [1,1.5,2,2.5,3,3.5,4,4.5,5,5.5], "tickSize": {"condition": {"test": "datum.value % 1 === 0", "value": -6}, "value": -3}, "labelExpr": "datum.value % 1 === 0 ? format(datum.value, 'd') : ''", "title": null}},
    "color": {"field": "m", "type": "nominal", "scale": {"domain": ["hard", "soft"], "range": ["#000000", "#ff0000"]}, "legend": null}}},
  {"data": {"name": "pts"}, "transform": [{"filter": "datum.p === 'c' && datum.e > 0"}],
   "mark": {"type": "errorbar", "ticks": {"size": 8}, "thickness": 1},
   "encoding": {
    "x": {"field": "E", "type": "quantitative", "scale": {"domain": [0, 85.4], "nice": false, "zero": false}, "axis": null},
    "y": {"field": "Y", "type": "quantitative", "scale": {"domain": [1, 5.5], "nice": false, "zero": false}, "axis": null},
    "yError": {"field": "e"},
    "color": {"field": "m", "type": "nominal", "scale": {"domain": ["hard", "soft"], "range": ["#000000", "#ff0000"]}, "legend": null}}},
  {"data": {"name": "pts"}, "transform": [{"filter": "datum.p === 'c'"}],
   "mark": {"type": "point", "filled": true, "size": 150, "opacity": 1},
   "encoding": {
    "x": {"field": "E", "type": "quantitative", "scale": {"domain": [0, 85.4], "nice": false, "zero": false}, "axis": {"orient": "top", "values": [0,5,10,15,20,25,30,35,40,45,50,55,60,65,70,75,80,85], "tickSize": {"condition": {"test": "datum.value % 10 === 0", "value": -6}, "value": -3}, "labels": false, "title": null}},
    "y": {"field": "Y", "type": "quantitative", "scale": {"domain": [1, 5.5], "nice": false, "zero": false}, "axis": {"orient": "right", "values": [1,1.5,2,2.5,3,3.5,4,4.5,5,5.5], "tickSize": {"condition": {"test": "datum.value % 1 === 0", "value": -6}, "value": -3}, "labels": false, "title": null}},
    "color": {"field": "m", "type": "nominal", "scale": {"domain": ["hard", "soft"], "range": ["#000000", "#ff0000"]}, "legend": null},
    "shape": {"field": "m", "type": "nominal", "scale": {"domain": ["hard", "soft"], "range": ["square", "circle"]}, "legend": null}}},
  {"data": {"name": "ann"}, "transform": [{"filter": "datum.p === 'c' && datum.k === 'lab'"}],
   "mark": {"type": "text", "align": "left", "baseline": "alphabetic", "fontSize": 26, "font": "Liberation Sans", "color": "#000"},
   "encoding": {"x": {"field": "x", "type": "quantitative", "axis": null}, "y": {"field": "y", "type": "quantitative", "axis": null}, "text": {"field": "t"}}},
  {"data": {"name": "ann"}, "transform": [{"filter": "datum.p === 'c' && datum.k === 'xt'"}],
   "mark": {"type": "text", "align": "left", "baseline": "alphabetic", "fontSize": 29, "font": "Liberation Sans", "color": "#000"},
   "encoding": {"x": {"field": "x", "type": "quantitative", "axis": null}, "y": {"field": "y", "type": "quantitative", "axis": null}, "text": {"field": "t"}}},
  {"data": {"name": "ann"}, "transform": [{"filter": "datum.p === 'c' && datum.k === 'xs'"}],
   "mark": {"type": "text", "align": "left", "baseline": "alphabetic", "fontSize": 18, "font": "Liberation Sans", "color": "#000"},
   "encoding": {"x": {"field": "x", "type": "quantitative", "axis": null}, "y": {"field": "y", "type": "quantitative", "axis": null}, "text": {"field": "t"}}}
 ]
},
{
 "width": 439, "height": 208,
 "resolve": {"scale": {"shape": "independent"}, "axis": {"x": "independent", "y": "independent"}},
 "layer": [
  {"data": {"name": "pts"}, "transform": [{"filter": "datum.p === 'f'"}],
   "mark": {"type": "line", "strokeWidth": 1, "clip": true},
   "encoding": {
    "x": {"field": "E", "type": "quantitative", "scale": {"domain": [0, 84.4], "nice": false, "zero": false}, "axis": {"orient": "bottom", "values": [0,5,10,15,20,25,30,35,40,45,50,55,60,65,70,75,80], "tickSize": {"condition": {"test": "datum.value % 10 === 0", "value": -6}, "value": -3}, "labelExpr": "datum.value % 10 === 0 ? datum.label : ''", "labelPadding": 10, "title": null}},
    "y": {"field": "Y", "type": "quantitative", "scale": {"domain": [1, 5.5], "nice": false, "zero": false}, "axis": {"orient": "left", "values": [1,1.5,2,2.5,3,3.5,4,4.5,5,5.5], "tickSize": {"condition": {"test": "datum.value % 1 === 0", "value": -6}, "value": -3}, "labels": false, "title": null}},
    "color": {"field": "m", "type": "nominal", "scale": {"domain": ["hard", "soft"], "range": ["#000000", "#ff0000"]}, "legend": null}}},
  {"data": {"name": "pts"}, "transform": [{"filter": "datum.p === 'f' && datum.e > 0"}],
   "mark": {"type": "errorbar", "ticks": {"size": 8}, "thickness": 1},
   "encoding": {
    "x": {"field": "E", "type": "quantitative", "scale": {"domain": [0, 84.4], "nice": false, "zero": false}, "axis": null},
    "y": {"field": "Y", "type": "quantitative", "scale": {"domain": [1, 5.5], "nice": false, "zero": false}, "axis": null},
    "yError": {"field": "e"},
    "color": {"field": "m", "type": "nominal", "scale": {"domain": ["hard", "soft"], "range": ["#000000", "#ff0000"]}, "legend": null}}},
  {"data": {"name": "pts"}, "transform": [{"filter": "datum.p === 'f'"}],
   "mark": {"type": "point", "filled": true, "size": 150, "opacity": 1, "clip": true},
   "encoding": {
    "x": {"field": "E", "type": "quantitative", "scale": {"domain": [0, 84.4], "nice": false, "zero": false}, "axis": {"orient": "top", "values": [0,5,10,15,20,25,30,35,40,45,50,55,60,65,70,75,80], "tickSize": {"condition": {"test": "datum.value % 10 === 0", "value": -6}, "value": -3}, "labels": false, "title": null}},
    "y": {"field": "Y", "type": "quantitative", "scale": {"domain": [1, 5.5], "nice": false, "zero": false}, "axis": null},
    "color": {"field": "m", "type": "nominal", "scale": {"domain": ["hard", "soft"], "range": ["#000000", "#ff0000"]}, "legend": null},
    "shape": {"field": "m", "type": "nominal", "scale": {"domain": ["hard", "soft"], "range": ["square", "circle"]}, "legend": null}}},
  {"data": {"name": "ann"}, "transform": [{"filter": "datum.p === 'f' && datum.k === 'lab'"}],
   "mark": {"type": "text", "align": "left", "baseline": "alphabetic", "fontSize": 26, "font": "Liberation Sans", "color": "#000"},
   "encoding": {"x": {"field": "x", "type": "quantitative", "axis": null}, "y": {"field": "y", "type": "quantitative", "axis": null}, "text": {"field": "t"}}}
 ]
}
]
}
